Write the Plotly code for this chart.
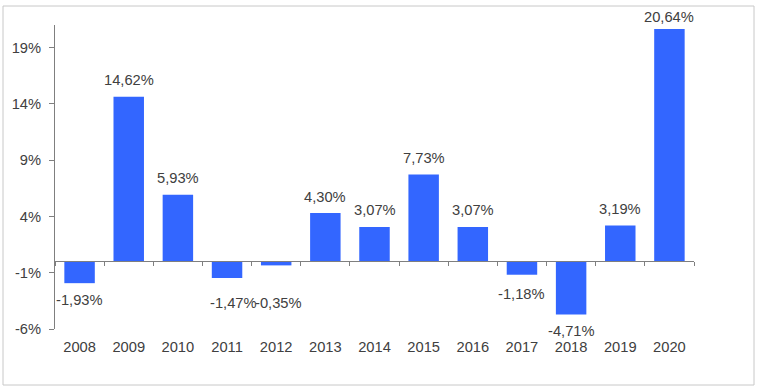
import plotly.graph_objects as go

years = ["2008", "2009", "2010", "2011", "2012", "2013", "2014", "2015", "2016", "2017", "2018", "2019", "2020"]
returns = [-1.93, 14.62, 5.93, -1.47, -0.35, 4.30, 3.07, 7.73, 3.07, -1.18, -4.71, 3.19, 20.64]
ytick_vals = [-6, -1, 4, 9, 14, 19]
ytick_text = ["-6%", "-1%", "4%", "9%", "14%", "19%"]
labels = [f"{v:.2f}%".replace(".", ",") for v in returns]

# gap (px) between bar end and its value label; a few labels were nudged in the original
default_gap = 10.5
gap_override = {"2011": 18.5, "2012": 31, "2017": 13, "2018": 10, "2020": 6}
xshift_override = {"2011": 6, "2012": 2}

BLUE = "#3366ff"
TXT = "#404040"
AXC = "#7f7f7f"
FONT = "Liberation Sans, Arial, sans-serif"
FS = 14.7
ymin, ymax = -6, 21

fig = go.Figure()
fig.add_trace(go.Bar(
    x=years, y=returns, marker=dict(color=BLUE, line=dict(width=0)),
    hoverinfo="skip", showlegend=False,
))
# invisible trace for the zero-line axis
fig.add_trace(go.Scatter(x=years, y=[0] * len(years), xaxis="x2", mode="markers",
                         marker=dict(opacity=0), hoverinfo="skip", showlegend=False))

desc = 0.212 * FS
asc_gap = (0.905 - 0.716) * FS
for i, (yr, v, lab) in enumerate(zip(years, returns, labels)):
    g = gap_override.get(yr, default_gap)
    if v >= 0:
        ys, ya = g - desc, "bottom"
    else:
        ys, ya = -(g - asc_gap), "top"
    fig.add_annotation(x=i, y=v, xref="x", yref="y", text=lab, showarrow=False,
                       yanchor=ya, yshift=ys, xshift=xshift_override.get(yr, 0),
                       borderpad=0, font=dict(size=FS, color=TXT, family=FONT))

fig.update_layout(
    width=760, height=392,
    margin=dict(l=55, r=66, t=25, b=63, autoexpand=False),
    paper_bgcolor="white", plot_bgcolor="white",
    bargap=0.38,
    font=dict(family=FONT, size=FS, color=TXT),
    xaxis=dict(type="category", categoryorder="array", categoryarray=years,
               range=[-0.5, len(years) - 0.5], showline=False, showgrid=False,
               zeroline=False, ticks="", tickfont=dict(size=FS, color=TXT),
               ticklabelstandoff=7),
    xaxis2=dict(type="category", categoryorder="array", categoryarray=years,
                overlaying="x", matches="x", anchor="free",
                position=(0 - ymin) / (ymax - ymin),
                showline=True, linecolor=AXC, linewidth=1,
                ticks="outside", tickson="boundaries", ticklen=4, tickcolor=AXC,
                showticklabels=False, showgrid=False, zeroline=False),
    yaxis=dict(range=[ymin, ymax], tickvals=ytick_vals, ticktext=ytick_text,
               showline=True, linecolor=AXC, linewidth=1,
               ticks="outside", ticklen=5, tickcolor=AXC,
               showgrid=False, zeroline=False,
               tickfont=dict(size=FS, color=TXT), ticklabelstandoff=5),
    yaxis2=dict(overlaying="y", matches="y", side="left", range=[ymin, ymax],
                tickvals=ytick_vals, ticks="inside", ticklen=4, tickcolor=AXC,
                showticklabels=False, showgrid=False, zeroline=False, showline=False),
)

fig.add_shape(type="rect", xref="paper", yref="paper",
              x0=(3 - 55) / 639, x1=(754 - 55) / 639,
              y0=(329 - 385) / 304, y1=(329 - 6) / 304,
              line=dict(color="#c8c8c8", width=1), fillcolor="rgba(0,0,0,0)", layer="below")

fig.write_html("out.html", config={"displayModeBar": False},
               post_script="document.body.style.margin='0';")
